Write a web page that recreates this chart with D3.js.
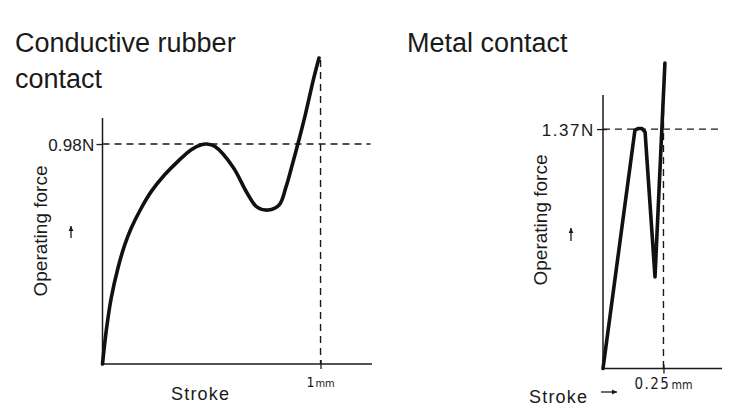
<!DOCTYPE html>
<html>
<head>
<meta charset="utf-8">
<script src="https://cdn.jsdelivr.net/npm/d3@7"></script>
<style>
  html, body { margin: 0; padding: 0; background: #fff; }
  svg { display: block; font-family: "Liberation Sans", Arial, sans-serif; }
</style>
</head>
<body>
<svg id="chart" width="751" height="415"></svg>
<script>
// ---------------- DATA ----------------
// Conductive rubber contact: stroke (mm) vs operating force (N)
const rubberStroke = [0, 0.017, 0.040, 0.071, 0.102, 0.132, 0.178, 0.224, 0.285, 0.346, 0.407, 0.453, 0.479, 0.516, 0.599, 0.663, 0.709, 0.760, 0.810, 0.842, 0.871, 0.896, 0.930, 0.968, 0.993];
const rubberForce  = [0, 0.147, 0.294, 0.428, 0.531, 0.606, 0.695, 0.769, 0.843, 0.903, 0.955, 0.977, 0.980, 0.969, 0.877, 0.762, 0.699, 0.686, 0.708, 0.790, 0.890, 0.980, 1.110, 1.270, 1.363];
// Metal contact
const metalStroke = [0, 0.132, 0.145, 0.161, 0.174, 0.215, 0.256];
const metalForce  = [0, 1.364, 1.373, 1.373, 1.353, 0.524, 1.748];

const titles = [["Conductive rubber", "contact"], ["Metal contact"]];
const forceLabels = ["0.98N", "1.37N"];
const forceMarks = [0.98, 1.37];
const strokeMarks = [1, 0.25];
const strokeMarkNum = ["1", "0.25"];
const strokeUnit = "mm";
const yTitle = "Operating force";
const xTitle = "Stroke";
// axis extents (data units)
const xAxisMax = [1.236, 0.492];
const yAxisMax = [1.096, 1.565];
const hDashMax = [1.229, 0.496];
const vDashTop = [1.354, 1.553];

// ---------------- DRAW ----------------
const svg = d3.select("#chart");
const ink = "#1a1a1a";

const panels = [
  { x: d3.scaleLinear().domain([0, xAxisMax[0]]).range([102.5, 372]),
    y: d3.scaleLinear().domain([0, yAxisMax[0]]).range([364, 118]),
    sx: rubberStroke, fy: rubberForce, curve: d3.curveCatmullRom.alpha(0.5),
    titleX: 15, yTitleX: 47, yTitleY: 231, arrowX: 71, arrowY0: 238, arrowY1: 226,
    xTitleX: 171, xTitleY: 400, arrowRight: false },
  { x: d3.scaleLinear().domain([0, xAxisMax[1]]).range([603, 722]),
    y: d3.scaleLinear().domain([0, yAxisMax[1]]).range([368.5, 95]),
    sx: metalStroke, fy: metalForce, curve: d3.curveLinear,
    titleX: 407, yTitleX: 547, yTitleY: 220, arrowX: 571, arrowY0: 241, arrowY1: 228,
    xTitleX: 529, xTitleY: 403, arrowRight: true }
];

function arrow(g, x1, y1, x2, y2) {
  g.append("line").attr("x1", x1).attr("y1", y1).attr("x2", x2).attr("y2", y2)
    .attr("stroke", ink).attr("stroke-width", 1.3);
  const ang = Math.atan2(y2 - y1, x2 - x1);
  const L = 5, W = 2.4;
  const bx = x2 - L * Math.cos(ang), by = y2 - L * Math.sin(ang);
  const px = -Math.sin(ang) * W, py = Math.cos(ang) * W;
  g.append("path").attr("d", `M${x2},${y2}L${bx + px},${by + py}L${bx - px},${by - py}Z`)
    .attr("fill", ink);
}

panels.forEach((p, i) => {
  const g = svg.append("g");
  const x = p.x, y = p.y;

  // titles
  titles[i].forEach((t, k) => {
    g.append("text").attr("x", p.titleX).attr("y", 52 + k * 36)
      .attr("font-size", 27).attr("fill", ink).text(t);
  });

  // dashed reference lines
  g.append("line")
    .attr("x1", x(0)).attr("x2", x(hDashMax[i]))
    .attr("y1", y(forceMarks[i])).attr("y2", y(forceMarks[i]))
    .attr("stroke", ink).attr("stroke-width", 1.4).attr("stroke-dasharray", "7,5");
  g.append("line")
    .attr("x1", x(strokeMarks[i])).attr("x2", x(strokeMarks[i]))
    .attr("y1", y(vDashTop[i])).attr("y2", y(0))
    .attr("stroke", ink).attr("stroke-width", 1.4).attr("stroke-dasharray", "7,5");

  // y axis
  const yAxis = d3.axisLeft(y).tickValues([forceMarks[i]])
    .tickFormat(() => forceLabels[i]).tickSizeInner(6).tickSizeOuter(0).tickPadding(2);
  const ya = g.append("g").attr("transform", `translate(${x(0)},0)`).call(yAxis);
  ya.select(".domain").attr("stroke", ink).attr("stroke-width", 1.5)
    .attr("d", `M0,${y(0)}V${y(yAxisMax[i])}`);
  ya.selectAll(".tick line").attr("stroke", ink).attr("stroke-width", 1.3).attr("x2", -6).attr("x1", i === 1 ? 4 : 0);
  ya.selectAll(".tick text").attr("font-size", 17).attr("fill", ink)
    .attr("font-family", "Liberation Sans, Arial, sans-serif")
    .attr("letter-spacing", i === 1 ? 1.6 : 0.2).attr("dy", "0.36em").attr("x", -8);

  // x axis
  const xAxis = d3.axisBottom(x).tickValues([strokeMarks[i]])
    .tickFormat("").tickSizeInner(5).tickSizeOuter(0);
  const xa = g.append("g").attr("transform", `translate(0,${y(0)})`).call(xAxis);
  xa.select(".domain").attr("stroke", ink).attr("stroke-width", 1.5)
    .attr("d", `M${x(0)},0H${x(xAxisMax[i])}`);
  xa.selectAll(".tick line").attr("stroke", ink).attr("stroke-width", 1.3).attr("y1", -4).attr("y2", 5);

  // tick label with unit
  const tl = g.append("text").attr("x", x(strokeMarks[i])).attr("y", y(0) + (i === 0 ? 23 : 20))
    .attr("text-anchor", "middle").attr("fill", ink)
    .attr("font-family", "DejaVu Sans Condensed, DejaVu Sans, sans-serif");
  tl.append("tspan").attr("font-size", i === 0 ? 14 : 15).attr("letter-spacing", i === 0 ? 0 : 1.5).text(strokeMarkNum[i]);
  tl.append("tspan").attr("font-size", i === 0 ? 11 : 12).attr("dx", 1).text(strokeUnit);

  // y title (rotated)
  g.append("text").attr("transform", `translate(${p.yTitleX},${p.yTitleY}) rotate(-90)`)
    .attr("text-anchor", "middle").attr("font-size", 19).attr("fill", ink).text(yTitle);
  // up arrow
  arrow(g, p.arrowX, p.arrowY0, p.arrowX, p.arrowY1);

  // x title
  g.append("text").attr("x", p.xTitleX).attr("y", p.xTitleY)
    .attr("font-size", 18).attr("letter-spacing", 1.2).attr("fill", ink).text(xTitle);
  if (p.arrowRight) arrow(g, 601, 392, 617, 392);

  // curve
  const pts = p.sx.map((s, k) => [s, p.fy[k]]);
  const line = d3.line().x(d => x(d[0])).y(d => y(d[1])).curve(p.curve);
  g.append("path").attr("d", line(pts)).attr("fill", "none")
    .attr("stroke", "#111").attr("stroke-width", 3.6)
    .attr("stroke-linejoin", "round").attr("stroke-linecap", "round");
});
</script>
</body>
</html>
